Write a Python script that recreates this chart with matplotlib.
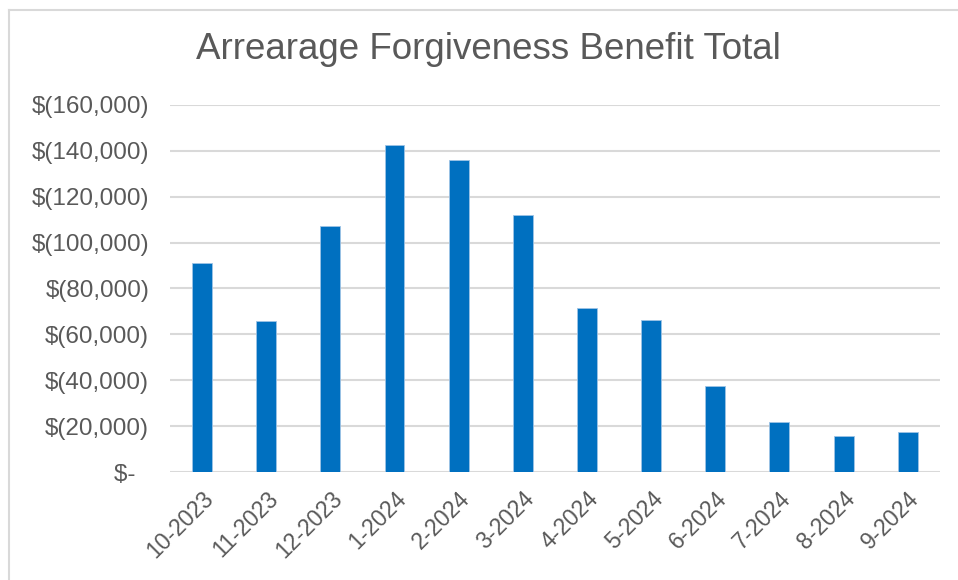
import matplotlib.pyplot as plt
from matplotlib.lines import Line2D
from matplotlib.ticker import FuncFormatter

plt.rcParams['font.family'] = ['Liberation Sans', 'DejaVu Sans']

months = ["10-2023", "11-2023", "12-2023", "1-2024", "2-2024", "3-2024",
          "4-2024", "5-2024", "6-2024", "7-2024", "8-2024", "9-2024"]
benefit = [91000, 65800, 107300, 142400, 136100, 112000,
           71300, 66300, 37300, 21700, 15600, 17300]

grey = "#595959"

fig = plt.figure(figsize=(9.58, 5.80), dpi=100)
ax = fig.add_axes([0.1775, 0.1862, 0.8035, 0.6328])

ax.bar(range(len(months)), benefit, width=0.31, color="#0070C0",
       edgecolor="#9DC3E6", linewidth=0.6, zorder=3)

ax.set_xlim(-0.5, len(months) - 0.5)
ax.set_ylim(0, 160000)
ax.set_yticks(range(0, 160001, 20000))


def money(v, pos):
    if v == 0:
        return "$-  "
    return "$({:,.0f})".format(v)


ax.yaxis.set_major_formatter(FuncFormatter(money))
ax.set_xticks(range(len(months)))
ax.set_xticklabels(months, rotation=45, ha="right", rotation_mode="anchor")

ax.grid(axis="y", color="#d9d9d9", linewidth=1.5, zorder=0)
for s in ax.spines.values():
    s.set_visible(False)
ax.tick_params(axis="both", length=0, colors=grey)
ax.tick_params(axis="y", pad=15, labelsize=17.5)
ax.tick_params(axis="x", pad=11, labelsize=16.5)

fig.text(0.51, 0.914, "Arrearage Forgiveness Benefit Total", ha="center",
         va="center", fontsize=26.5, color=grey)

# chart frame: only the left and top edges show in the screenshot
x0, y0 = 8.5 / 958, 1 - 9.5 / 580
fig.add_artist(Line2D([x0, x0], [0, y0], transform=fig.transFigure,
                      color="#d9d9d9", linewidth=1.5))
fig.add_artist(Line2D([x0, 1], [y0, y0], transform=fig.transFigure,
                      color="#d9d9d9", linewidth=1.5))

fig.savefig("out.png", dpi=100)
